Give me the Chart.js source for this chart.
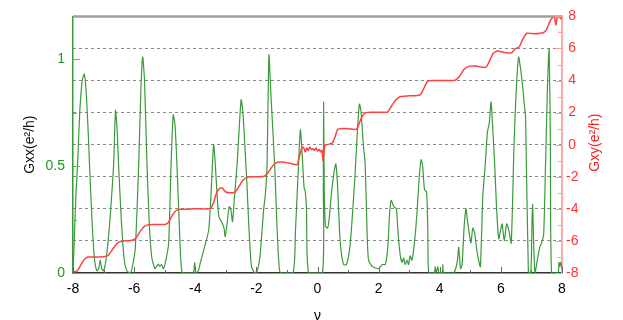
<!DOCTYPE html>
<html>
<head>
<meta charset="utf-8">
<script src="https://cdn.jsdelivr.net/npm/chart.js@4"></script>
<style>
  body { margin: 0; background: #fff; }
  canvas { display: block; }
</style>
</head>
<body>
<canvas id="chart" width="623" height="320"></canvas>
<script>
// filling factor nu
const nuRange = [-8, 8];
const gxxTicks = [0, 0.5, 1];
const gxyRange = [-8, 8];

// Gxx (e^2/h) : [nu, value]
const gxxNu = [-8.0,-7.96,-7.9,-7.85,-7.78,-7.7,-7.63,-7.57,-7.5,-7.46,-7.38,-7.3,-7.22,-7.16,-7.11,-7.06,-7.0,-6.92,-6.85,-6.78,-6.67,-6.61,-6.56,-6.51,-6.42,-6.33,-6.24,-6.12,-6.04,-5.96,-5.85,-5.78,-5.72,-5.66,-5.58,-5.5,-5.42,-5.32,-5.27,-5.2,-5.16,-5.1,-5.04,-4.96,-4.87,-4.79,-4.72,-4.66,-4.6,-4.52,-4.43,-4.2,-4.06,-4.02,-3.98,-3.9,-3.83,-3.7,-3.56,-3.48,-3.4,-3.34,-3.28,-3.22,-3.14,-3.06,-3.02,-2.96,-2.89,-2.84,-2.78,-2.72,-2.63,-2.5,-2.44,-2.36,-2.32,-2.24,-2.16,-2.05,-1.97,-1.88,-1.76,-1.71,-1.65,-1.59,-1.53,-1.4,-1.32,-1.25,-1.2,-0.8,-0.72,-0.62,-0.56,-0.5,-0.44,-0.4,-0.36,-0.29,0.16,0.19,0.2,0.22,0.26,0.33,0.38,0.46,0.55,0.6,0.66,0.74,0.85,0.95,1.07,1.22,1.3,1.37,1.42,1.5,1.56,1.62,1.67,1.8,2.0,2.12,2.22,2.3,2.36,2.41,2.5,2.58,2.64,2.71,2.77,2.82,2.87,2.93,2.98,3.03,3.09,3.17,3.25,3.33,3.39,3.44,3.5,3.57,3.61,3.64,3.82,3.85,3.88,3.94,3.97,4.08,4.1,4.13,4.45,4.52,4.58,4.62,4.68,4.73,4.8,4.86,4.9,4.95,5.02,5.08,5.14,5.2,5.27,5.33,5.41,5.49,5.56,5.62,5.68,5.74,5.8,5.86,5.93,5.99,6.04,6.11,6.19,6.26,6.34,6.43,6.5,6.58,6.65,6.7,6.76,6.81,6.9,6.98,7.02,7.04,7.08,7.12,7.18,7.27,7.33,7.4,7.46,7.53,7.58,7.62,7.66,7.87,7.9,7.93,7.96,8.0];
const gxxVal = [0.0,0.15,0.38,0.51,0.75,0.9,0.93,0.85,0.65,0.51,0.25,0.07,0.01,0.02,0.06,0.02,0.01,0.06,0.15,0.27,0.51,0.76,0.68,0.51,0.25,0.07,0.01,0.0,0.04,0.12,0.51,0.85,1.01,0.9,0.51,0.22,0.07,0.02,0.03,0.04,0.03,0.04,0.02,0.06,0.14,0.51,0.74,0.69,0.51,0.22,0.0,0.0,0.0,0.05,0.0,0.01,0.05,0.12,0.2,0.38,0.6,0.5,0.35,0.26,0.24,0.21,0.17,0.23,0.31,0.3,0.24,0.35,0.51,0.81,0.75,0.55,0.45,0.2,0.03,0.0,0.01,0.08,0.3,0.36,0.51,1.02,0.85,0.5,0.2,0.02,0.0,0.0,0.2,0.51,0.67,0.55,0.4,0.38,0.3,0.0,0.0,0.4,0.8,0.4,0.22,0.21,0.25,0.38,0.48,0.51,0.4,0.15,0.04,0.04,0.135,0.44,0.65,0.79,0.76,0.6,0.51,0.2,0.06,0.03,0.02,0.04,0.04,0.12,0.28,0.34,0.31,0.3,0.18,0.08,0.05,0.07,0.04,0.06,0.04,0.08,0.06,0.14,0.27,0.45,0.53,0.5,0.39,0.38,0.2,0.0,0.0,0.03,0.0,0.03,0.0,0.0,0.04,0.0,0.0,0.02,0.06,0.12,0.02,0.04,0.22,0.3,0.25,0.2,0.14,0.21,0.19,0.12,0.06,0.03,0.36,0.51,0.66,0.7,0.8,0.66,0.5,0.3,0.16,0.2,0.23,0.15,0.23,0.2,0.14,0.6,0.85,1.01,0.95,0.89,0.8,0.72,0.0,0.0,0.25,0.32,0.1,0.0,0.05,0.12,0.14,0.18,0.5,0.9,1.05,0.6,0.0,0.0,0.05,0.03,0.05,0.02];

// Gxy (e^2/h) : [nu, value]
const gxyNu = [-8.0,-7.88,-7.8,-7.7,-7.6,-7.5,-7.3,-7.0,-6.85,-6.75,-6.62,-6.5,-6.35,-6.1,-5.95,-5.85,-5.72,-5.6,-5.4,-5.0,-4.88,-4.78,-4.65,-4.5,-4.0,-3.5,-3.4,-3.3,-3.2,-3.12,-3.0,-2.85,-2.7,-2.6,-2.45,-2.3,-2.0,-1.75,-1.62,-1.48,-1.38,-1.2,-0.9,-0.67,-0.6,-0.5,-0.45,-0.4,-0.35,-0.3,-0.25,-0.2,-0.15,-0.1,-0.05,0.0,0.05,0.1,0.15,0.18,0.24,0.35,0.48,0.56,0.66,0.75,1.0,1.25,1.32,1.42,1.55,1.75,2.1,2.3,2.4,2.55,2.7,3.0,3.35,3.45,3.6,3.8,4.2,4.5,4.62,4.8,4.98,5.2,5.5,5.6,5.75,5.9,6.1,6.35,6.45,6.6,6.72,6.85,7.1,7.4,7.5,7.62,7.72,7.76,7.8,7.84,7.92,8.0];
const gxyVal = [-7.92,-7.9,-7.7,-7.35,-7.1,-7.0,-7.0,-6.98,-6.9,-6.65,-6.3,-6.08,-6.0,-5.97,-5.85,-5.55,-5.2,-5.03,-4.97,-4.97,-4.85,-4.5,-4.15,-4.03,-4.0,-3.97,-3.6,-3.0,-2.72,-2.7,-2.95,-3.0,-2.95,-2.7,-2.25,-2.02,-2.0,-1.97,-1.75,-1.35,-1.15,-1.08,-1.15,-1.25,-0.8,-0.14,-0.2,-0.45,-0.2,-0.35,-0.15,-0.3,-0.25,-0.35,-0.2,-0.4,-0.3,-0.45,-0.35,-1.0,-0.04,0.02,0.1,0.4,0.95,1.0,1.0,0.95,1.1,1.6,1.97,2.02,2.02,2.05,2.35,2.75,3.0,3.05,3.1,3.4,3.95,4.0,4.0,4.02,4.2,4.7,4.9,4.9,4.82,5.1,5.7,5.85,5.75,5.72,5.95,6.1,6.6,6.95,6.92,7.0,7.2,7.75,7.95,7.9,7.45,7.9,7.95,7.8];

const FONT = '"Liberation Sans", Arial, sans-serif';
const GREEN = '#3a9a3a';
const RED = '#ff4040';

// gnuplot-like inward ticks, top border, right axis title
const frame = {
    id: 'frame',
    afterDraw(chart) {
        const { ctx, chartArea: a, scales } = chart;
        ctx.save();
        // top border
        ctx.strokeStyle = '#a0a0a0';
        ctx.lineWidth = 2.5;
        ctx.beginPath(); ctx.moveTo(a.left, a.top); ctx.lineTo(a.right, a.top); ctx.stroke();

        ctx.lineWidth = 1;
        // x ticks
        ctx.strokeStyle = '#666';
        for (let v = nuRange[0]; v <= nuRange[1]; v++) {
            const px = Math.round(scales.x.getPixelForValue(v)) + 0.5;
            const len = v % 2 === 0 ? 6 : 3;
            ctx.beginPath(); ctx.moveTo(px, a.bottom); ctx.lineTo(px, a.bottom - len); ctx.stroke();
        }
        // left ticks
        ctx.strokeStyle = '#5cb85c';
        [0, 0.25, 0.5, 0.75, 1].forEach(v => {
            const py = Math.round(scales.y.getPixelForValue(v)) + 0.5;
            const len = gxxTicks.includes(v) ? 7 : 4;
            ctx.beginPath(); ctx.moveTo(a.left, py); ctx.lineTo(a.left + len, py); ctx.stroke();
        });
        // right ticks
        ctx.strokeStyle = '#ff9a9a';
        for (let v = gxyRange[0]; v <= gxyRange[1]; v++) {
            const py = Math.round(scales.y2.getPixelForValue(v)) + 0.5;
            const len = v % 2 === 0 ? 7 : 4;
            ctx.beginPath(); ctx.moveTo(a.right, py); ctx.lineTo(a.right - len, py); ctx.stroke();
        }
        // right axis title, reading bottom to top
        ctx.fillStyle = '#ff2020';
        ctx.font = '14px ' + FONT;
        ctx.textAlign = 'center';
        ctx.textBaseline = 'middle';
        ctx.translate(595, (a.top + a.bottom) / 2 - 2);
        ctx.rotate(-Math.PI / 2);
        ctx.fillText('Gxy(e²/h)', 0, 0);
        ctx.restore();
    }
};

new Chart(document.getElementById('chart'), {
    type: 'line',
    data: {
        datasets: [
            {
                label: 'Gxy',
                yAxisID: 'y2',
                data: gxyNu.map((v, i) => ({ x: v, y: gxyVal[i] })),
                borderColor: RED,
                borderWidth: 1.5,
                pointRadius: 0,
                tension: 0.2
            },
            {
                label: 'Gxx',
                yAxisID: 'y',
                data: gxxNu.map((v, i) => ({ x: v, y: gxxVal[i] })),
                borderColor: GREEN,
                borderWidth: 1.2,
                pointRadius: 0,
                tension: 0.2
            }
        ]
    },
    options: {
        responsive: false,
        animation: false,
        layout: { padding: { top: 9, left: 0, right: 0, bottom: 0 } },
        plugins: { legend: { display: false }, tooltip: { enabled: false } },
        scales: {
            x: {
                type: 'linear',
                min: nuRange[0], max: nuRange[1],
                ticks: { stepSize: 2, padding: 8, color: '#000', font: { family: FONT, size: 14 } },
                grid: { display: false, drawTicks: false },
                border: { color: '#333', width: 1.5 },
                title: { display: true, text: 'ν', color: '#000', font: { family: FONT, size: 14, lineHeight: 0.6 }, padding: 0 },
                afterFit: s => { s.height = 47; }
            },
            y: {
                position: 'left',
                min: 0, max: 1.2,
                afterBuildTicks: s => { s.ticks = gxxTicks.map(v => ({ value: v })); },
                ticks: { padding: 8, color: '#1f991f', font: { family: FONT, size: 14 }, callback: v => String(v) },
                grid: { display: false, drawTicks: false },
                border: { color: '#3a9a3a', width: 1.5 },
                title: { display: true, text: 'Gxx(e²/h)', color: '#111', font: { family: FONT, size: 14 }, padding: { top: 22, bottom: 0 } },
                afterFit: s => { s.width = 73; }
            },
            y2: {
                position: 'right',
                min: gxyRange[0], max: gxyRange[1],
                ticks: { stepSize: 2, padding: 4, crossAlign: 'center', color: '#ff3333', font: { family: FONT, size: 14 } },
                grid: {
                    drawOnChartArea: true,
                    drawTicks: false,
                    color: c => (c.tick && Math.abs(c.tick.value) === 8) ? 'rgba(0,0,0,0)' : '#8a8a8a',
                    lineWidth: 1
                },
                border: { color: '#ffaaaa', width: 2, dash: [3, 3] },
                afterFit: s => { s.width = 61; }
            }
        }
    },
    plugins: [frame]
});
</script>
</body>
</html>
